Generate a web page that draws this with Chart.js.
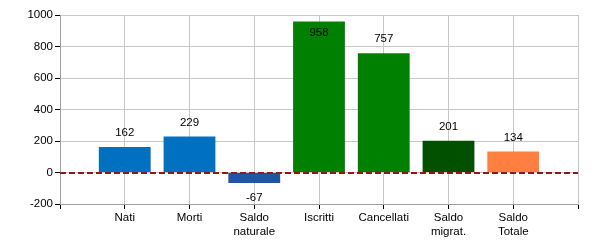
<!DOCTYPE html>
<html>
<head>
<meta charset="utf-8">
<script src="https://cdn.jsdelivr.net/npm/chart.js@4/dist/chart.umd.min.js"></script>
<style>
  html, body { margin: 0; padding: 0; background: #fff; }
  #wrap { width: 600px; height: 250px; }
</style>
</head>
<body>
<div id="wrap"><canvas id="bilancio"></canvas></div>
<script>
// categories (empty slots at both ends keep the axis margin)
const categories = [
    '', 'Nati', 'Morti', ['Saldo', 'naturale'], 'Iscritti', 'Cancellati',
    ['Saldo', 'migrat.'], ['Saldo', 'Totale'], ''
];
const values = [null, 162, 229, -67, 958, 757, 201, 134, null];
const barColors = [
    null, '#0070c0', '#0070c0', '#2054a4', '#008000', '#008000',
    '#005000', '#ff7f41', null
];
const yTicks = { min: -200, max: 1000, step: 200 };

const FONT = 'Arial, "Liberation Sans", sans-serif';

// dashed zero line + value labels
const overlay = {
    id: 'overlay',
    afterDatasetsDraw(chart) {
        const { ctx, chartArea, scales } = chart;
        const y0 = Math.round(scales.y.getPixelForValue(0));
        ctx.save();
        ctx.strokeStyle = '#8b1a1a';
        ctx.lineWidth = 2;
        ctx.setLineDash([6, 3]);
        ctx.beginPath();
        ctx.moveTo(chartArea.left, y0);
        ctx.lineTo(chartArea.right, y0);
        ctx.stroke();
        ctx.setLineDash([]);

        ctx.font = '11.5px ' + FONT;
        ctx.fillStyle = '#000';
        ctx.textAlign = 'center';
        ctx.textBaseline = 'middle';
        const meta = chart.getDatasetMeta(0);
        meta.data.forEach((bar, i) => {
            const v = values[i];
            if (v === null) return;
            let ty;
            if (v < 0) {
                ty = bar.y + 15;
            } else {
                ty = bar.y - 14;
                if (ty < chartArea.top + 6) ty = bar.y + 11;
            }
            ctx.fillText(String(v), bar.x, ty);
        });
        ctx.restore();
    }
};

new Chart(document.getElementById('bilancio'), {
    type: 'bar',
    data: {
        labels: categories,
        datasets: [{
            data: values,
            backgroundColor: barColors,
            borderWidth: 0,
            barPercentage: 0.8,
            categoryPercentage: 1,
        }],
    },
    options: {
        responsive: true,
        maintainAspectRatio: false,
        animation: false,
        events: [],
        layout: { padding: { top: 15, right: 22, left: 0, bottom: 0 } },
        plugins: {
            legend: { display: false },
            tooltip: { enabled: false },
        },
        scales: {
            x: {
                offset: false,
                grid: {
                    offset: false,
                    color: '#c8c8c8',
                    tickColor: '#000',
                    tickLength: 5,
                },
                border: { color: '#a0a0a0' },
                ticks: {
                    color: '#000',
                    font: { family: FONT, size: 11.5 },
                    padding: 2,
                    maxRotation: 0,
                    autoSkip: false,
                },
                afterFit(scale) { scale.height = 46; },
            },
            y: {
                min: yTicks.min,
                max: yTicks.max,
                grid: {
                    color: '#c8c8c8',
                    tickColor: '#000',
                    tickLength: 5,
                },
                border: { color: '#a0a0a0' },
                ticks: {
                    stepSize: yTicks.step,
                    color: '#000',
                    font: { family: FONT, size: 11.5 },
                    padding: 2,
                    callback: v => String(v),
                },
                afterFit(scale) { scale.width = 60; },
            },
        },
    },
    plugins: [overlay],
});
</script>
</body>
</html>
